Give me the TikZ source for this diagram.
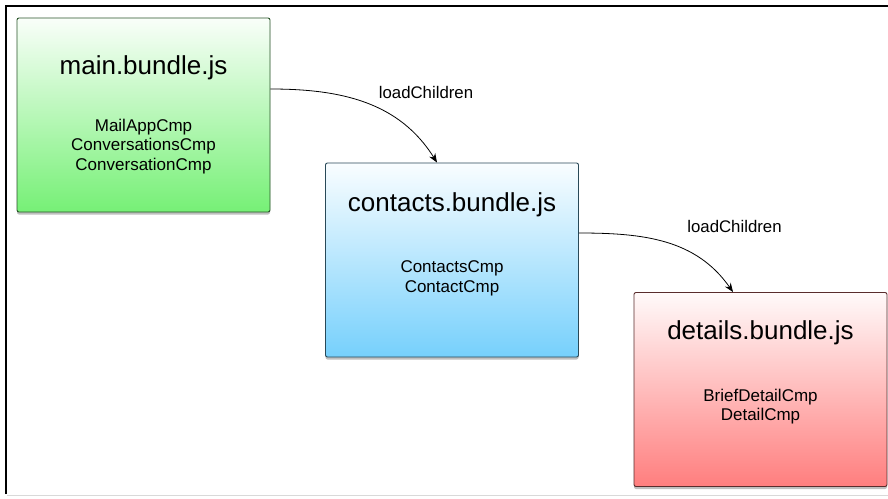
\documentclass[tikz,border=0pt]{standalone}
\usepackage{fontspec}
\setmainfont{Liberation Sans}
\usetikzlibrary{arrows.meta,shadows,calc}
\definecolor{gbot}{RGB}{118,240,118}
\definecolor{bbot}{RGB}{118,208,252}
\definecolor{rbot}{RGB}{255,126,126}
\tikzset{
  bundle/.style={rectangle, rounded corners=2pt, line width=0.9pt,
    minimum width=253pt, minimum height=194pt, inner sep=0pt,
    drop shadow={shadow xshift=0pt, shadow yshift=-2.5pt, opacity=0.25, fill=black}},
  greenbox/.style={bundle, draw=gbot!35!black, top color=gbot!4!white, bottom color=gbot},
  bluebox/.style={bundle, draw=bbot!35!black, top color=bbot!4!white, bottom color=bbot},
  redbox/.style={bundle, draw=rbot!35!black, top color=rbot!4!white, bottom color=rbot},
  titletext/.style={anchor=base, inner sep=0pt, font=\fontsize{26}{30}\selectfont},
  bodytext/.style={anchor=base, inner sep=0pt, font=\fontsize{17}{20}\selectfont},
  edgelabel/.style={anchor=center, inner sep=0pt, font=\fontsize{16.8}{20}\selectfont},
  loadarrow/.style={-{Stealth[length=9pt,width=7pt]}, line width=0.8pt, draw=black}
}
\begin{document}
\begin{tikzpicture}[x=1pt,y=1pt]
\useasboundingbox (0,0) rectangle (888,-498);
\fill[white] (0,0) rectangle (888,-498);
% frame
\draw[line width=2pt, black] (6,-494) -- (6,-6) -- (888,-6);
\draw[line width=1pt, black!15] (7,-495.5) -- (888,-495.5);
% boxes
\node[greenbox] (main) at (143.5,-115) {};
\node[bluebox] (contacts) at (452,-260) {};
\node[redbox] (details) at (760.5,-389.5) {};
% texts
\node[titletext] (maint) at (143.5,-74) {main.bundle.js};
\node[bodytext] (m1) at (143.5,-131) {MailAppCmp};
\node[bodytext] (m2) at (143.5,-150.5) {ConversationsCmp};
\node[bodytext] (m3) at (143.5,-170) {ConversationCmp};
\node[titletext] (contt) at (452,-211) {contacts.bundle.js};
\node[bodytext] (c1) at (452,-272.5) {ContactsCmp};
\node[bodytext] (c2) at (452,-292) {ContactCmp};
\node[titletext] (dett) at (760.5,-339) {details.bundle.js};
\node[bodytext] (d1) at (760.5,-401) {BriefDetailCmp};
\node[bodytext] (d2) at (760.5,-420.5) {DetailCmp};
% connectors
\draw[loadarrow] ([yshift=26pt]main.east) to[out=0,in=122] ([xshift=-15pt]contacts.north);
\draw[loadarrow] ([yshift=27pt]contacts.east) to[out=0,in=125] ([xshift=-27.5pt]details.north);
\node[edgelabel] (l1) at (426,-92) {loadChildren};
\node[edgelabel] (l2) at (734.5,-226) {loadChildren};
\end{tikzpicture}
\end{document}
